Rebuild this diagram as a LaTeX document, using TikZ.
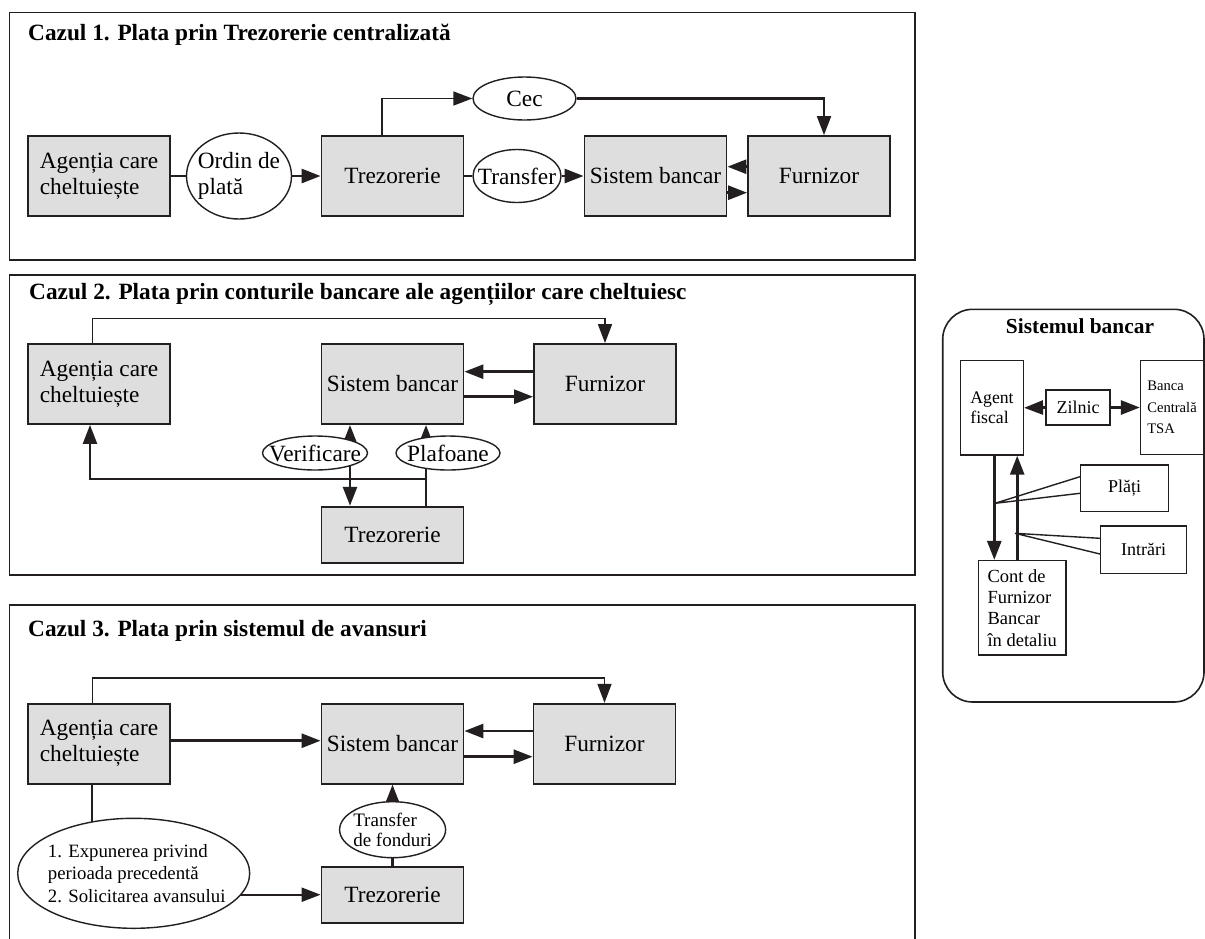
\documentclass[tikz,border=0pt]{standalone}
\usepackage{fontspec}
\setmainfont{Liberation Serif}
\usetikzlibrary{arrows.meta,shapes.geometric,calc}
\pgfdeclarelayer{paper}
\pgfdeclarelayer{bg}
\pgfsetlayers{paper,bg,main}

\definecolor{ink}{RGB}{35,31,32}
\definecolor{boxgray}{RGB}{222,222,222}

\tikzset{
  box/.style={draw=ink, line width=1.8pt, fill=boxgray, minimum width=142pt,
    minimum height=80pt, inner sep=0pt, align=left,
    font=\fontsize{23.3}{26}\selectfont},
  oval/.style={ellipse, draw=ink, line width=1.4pt, fill=white, inner sep=0pt},
  ovaltext/.style={align=left, inner sep=0pt, font=\fontsize{23.3}{26}\selectfont},
  smalltext/.style={align=left, inner sep=0pt, font=\fontsize{19}{20}\selectfont},
  listtext/.style={align=left, inner sep=0pt, font=\fontsize{18.8}{22.3}\selectfont},
  wbox/.style={draw=ink, line width=1.5pt, fill=white, inner sep=0pt},
  tip/.style={-{Triangle[length=19pt,width=14pt]}},
  arr/.style={draw=ink, line width=2.7pt, tip},
  thinarr/.style={draw=ink, line width=1.7pt, tip},
  dblarr/.style={draw=ink, line width=2.7pt,
    {Triangle[length=19pt,width=14pt]}-{Triangle[length=19pt,width=14pt]}},
  link/.style={draw=ink, line width=2.7pt},
  thinlink/.style={draw=ink, line width=1.7pt},
  callout/.style={draw=ink, line width=1.4pt},
  panel/.style={draw=ink, line width=1.6pt},
  title/.style={anchor=base west, inner sep=0pt,
    font=\bfseries\fontsize{23.3}{26}\selectfont},
}

\begin{document}
\begin{tikzpicture}[x=1pt,y=-1pt]
\useasboundingbox (0,0) rectangle (1205,938);
\begin{pgfonlayer}{paper}
  \fill[white] (0,0) rectangle (1205,938);
\end{pgfonlayer}

% ---------- Case 1: centralised Treasury ----------
\draw[panel] (9.3,12.3) rectangle (915,260);
\node[title] (h1) at (28,40) {Cazul 1. Plata prin Trezorerie centralizată};

\node[box] (a1) at (99,176) {Agenția care\\cheltuiește};
\node[oval, minimum width=105pt, minimum height=86pt,
  label={[ovaltext]center:{Ordin de\\plată}}] (o1) at (239,176) {};
\node[box] (t1) at (392.5,176) {Trezorerie};
\node[oval, minimum width=103pt, minimum height=43pt,
  label={[ovaltext]center:Cec}] (c1) at (524.5,98.5) {};
\node[oval, minimum width=88pt, minimum height=53pt,
  label={[ovaltext]center:Transfer}] (x1) at (517,176) {};
\node[box] (s1) at (655.5,176) {Sistem bancar};
\node[box] (f1) at (819,176) {Furnizor};

\begin{pgfonlayer}{bg}
  \draw[link] (a1.east) -- (o1.west);
  \draw[arr] (o1.east) -- (t1.west);
  \draw[thinarr] ([xshift=-10.5pt]t1.north) |- (c1.west);
  \draw[thinarr, line width=2.1pt] (c1.east) -| ([xshift=5pt]f1.north);
  \draw[link] (t1.east) -- (x1.west);
  \draw[arr] (x1.east) -- (s1.west);
  \draw[arr] ([yshift=9.3pt]f1.west) -- ([yshift=9.3pt]s1.east);
  \draw[arr] ([yshift=-16.7pt]s1.east) -- ([yshift=-16.7pt]f1.west);
\end{pgfonlayer}

% ---------- Case 2: bank accounts of spending agencies ----------
\draw[panel] (9.3,274.7) rectangle (915,575);
\node[title] (h2) at (29,299) {Cazul 2. Plata prin conturile bancare ale agențiilor care cheltuiesc};

\node[box] (a2) at (99,384) {Agenția care\\cheltuiește};
\node[box] (s2) at (392.5,384) {Sistem bancar};
\node[box] (f2) at (605,384) {Furnizor};
\node[box, minimum height=56.7pt] (z2) at (392.5,535) {Trezorerie};
\node[oval, minimum width=105pt, minimum height=34pt,
  label={[ovaltext]center:Verificare}] (v2) at (315,453) {};
\node[oval, minimum width=104pt, minimum height=34pt,
  label={[ovaltext]center:Plafoane}] (p2) at (448,453) {};

\begin{pgfonlayer}{bg}
  \draw[thinarr] ([xshift=-6.4pt]a2.north) -- ++(0,-24.7) -| (f2.north);
  \draw[arr] ([yshift=12.3pt]f2.west) -- ([yshift=12.3pt]s2.east);
  \draw[arr] ([yshift=-12.7pt]s2.east) -- ([yshift=-12.7pt]f2.west);
  \draw[dblarr] ([xshift=-42.5pt]s2.south) -- ([xshift=-42.5pt]z2.north);
  \draw[arr] ([xshift=33.5pt]z2.north) -- ([xshift=33.5pt]s2.south);
  \draw[thinarr, line width=2.3pt] ([xshift=33.5pt]z2.north) -- ++(0,-26.7)
    -| ([xshift=-9pt]a2.south);
\end{pgfonlayer}

% ---------- Case 3: advance system ----------
\draw[panel] (9.3,945) -- (9.3,604.7) -- (915,604.7) -- (915,945);
\node[title] (h3) at (28,636.7) {Cazul 3. Plata prin sistemul de avansuri};

\node[box] (a3) at (99,743.7) {Agenția care\\cheltuiește};
\node[box] (s3) at (392.5,743.7) {Sistem bancar};
\node[box] (f3) at (604.5,743.7) {Furnizor};
\node[box, minimum height=56pt] (z3) at (392.5,894.7) {Trezorerie};
\node[oval, minimum width=106pt, minimum height=56pt,
  label={[smalltext]center:{Transfer\\de fonduri}}] (d3) at (392.6,829.7) {};
\node[oval, minimum width=232pt, minimum height=110pt,
  label={[listtext, xshift=3pt]center:{1. Expunerea privind\\perioada precedentă\\2. Solicitarea avansului}}]
  (e3) at (133.7,873.3) {};

\begin{pgfonlayer}{bg}
  \draw[thinarr] ([xshift=-6.4pt]a3.north) -- ++(0,-25) -| (f3.north);
  \draw[arr] ([yshift=3pt]a3.east) -- ([yshift=3pt]s3.west);
  \draw[arr] ([yshift=12.7pt]f3.west) -- ([yshift=12.7pt]s3.east);
  \draw[arr] ([yshift=-13pt]s3.east) -- ([yshift=-13pt]f3.west);
  \draw[arr] (z3.north) -- (s3.south);
  \draw[thinlink] ([xshift=-7pt]a3.south) -- ([xshift=-7pt]a3.south |- e3.center);
  \draw[arr, line width=2.1pt] (e3.center |- z3.west) -- (z3.west);
\end{pgfonlayer}

% ---------- Banking system detail ----------
\draw[panel, rounded corners=30pt] (942.7,309.3) rectangle (1204,702);
\node[anchor=base, inner sep=0pt, font=\bfseries\fontsize{21.4}{24}\selectfont]
  (hb) at (1080,333) {Sistemul bancar};

\node[wbox, minimum width=62.6pt, minimum height=94.3pt, align=left,
  font=\fontsize{17.7}{20.7}\selectfont] (af) at (992,407.8) {Agent\\fiscal};
\node[wbox, minimum width=64pt, minimum height=35pt,
  font=\fontsize{18}{21}\selectfont] (zl) at (1078,407.5) {Zilnic};
\node[wbox, minimum width=62.8pt, minimum height=93.6pt, align=left,
  font=\fontsize{14.6}{21.7}\selectfont] (bc) at (1172,407.5) {Banca\\Centrală\\TSA};
\node[wbox, minimum width=87.7pt, minimum height=94.3pt, align=left,
  font=\fontsize{18.5}{21.3}\selectfont] (ct) at (1022.2,607.8)
  {Cont de\\Furnizor\\Bancar\\în detaliu};
\node[wbox, minimum width=88pt, minimum height=46.7pt,
  font=\fontsize{18}{21}\selectfont] (pl) at (1124.7,488.3) {Plăți};
\node[wbox, minimum width=86pt, minimum height=47.3pt,
  font=\fontsize{18}{21}\selectfont] (in) at (1143.7,549.7) {Intrări};

\coordinate (tipP) at (995,503.3);
\coordinate (tipI) at (1015,533.3);

\draw[arr] ([xshift=2.3pt]af.south) -- ([xshift=2.3pt]af.south |- ct.north);
\draw[arr] ([xshift=-5pt]ct.north) -- ([xshift=-5pt]ct.north |- af.south);
\draw[arr] (zl.west) -- (af.east);
\draw[arr] (zl.east) -- (bc.west);
\draw[callout] ([yshift=11.6pt]pl.west) -- (tipP) -- ([yshift=-5pt]pl.west);
\draw[callout] ([yshift=11.4pt]in.west) -- (tipI) -- ([yshift=-4.3pt]in.west);
\end{tikzpicture}
\end{document}
